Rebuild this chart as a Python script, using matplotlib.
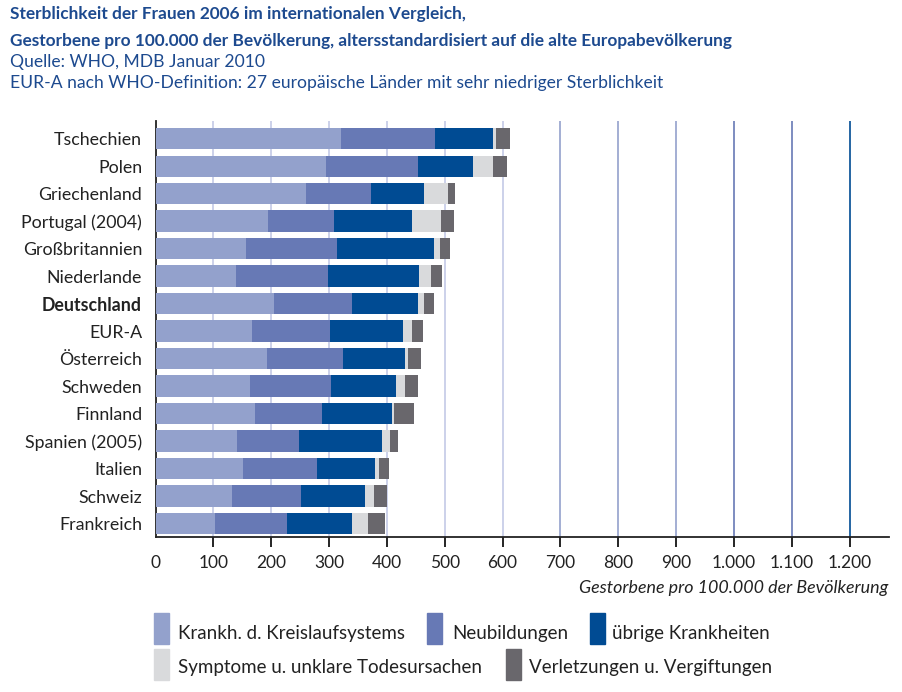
import matplotlib
matplotlib.use("Agg")
import matplotlib.pyplot as plt
from matplotlib.patches import Rectangle
import numpy as np

plt.rcParams['font.family'] = ['Lato', 'DejaVu Sans']

countries = ["Tschechien", "Polen", "Griechenland", "Portugal (2004)", "Großbritannien",
             "Niederlande", "Deutschland", "EUR-A", "Österreich", "Schweden",
             "Finnland", "Spanien (2005)", "Italien", "Schweiz", "Frankreich"]
kreislauf = [320, 294, 261, 195, 157, 140, 204, 166, 193, 164, 172, 141, 152, 133, 103]
neubildungen = [164, 160, 111, 114, 157, 159, 135, 135, 131, 140, 116, 107, 128, 119, 125]
uebrige = [100, 94, 92, 135, 168, 157, 114, 126, 107, 111, 121, 144, 100, 111, 112]
symptome = [5, 36, 41, 50, 10, 21, 12, 16, 5, 16, 3, 14, 7, 14, 28]
verletzungen = [24, 24, 12, 22, 17, 19, 17, 19, 23, 22, 35, 14, 16, 24, 28]

series_names = ["Krankh. d. Kreislaufsystems", "Neubildungen", "übrige Krankheiten",
                "Symptome u. unklare Todesursachen", "Verletzungen u. Vergiftungen"]
series_vals = [kreislauf, neubildungen, uebrige, symptome, verletzungen]
colors = ["#93a1cc", "#6779b5", "#004b93", "#d9dadc", "#69676c"]

xticks = list(range(0, 1300, 100))
xtick_labels = ["0", "100", "200", "300", "400", "500", "600", "700", "800", "900",
                "1.000", "1.100", "1.200"]
grid_colors = ["#c3c9e6"] * 7 + ["#93a1cc"] * 3 + ["#6779b5"] * 2 + ["#004b93"]

W, H = 902, 692
fig = plt.figure(figsize=(W / 100, H / 100), dpi=100)
ax = fig.add_axes([155.5 / W, 1 - 537 / H, (889 - 155.5) / W, (537 - 121) / H])

y = np.arange(len(countries))
left = np.zeros(len(countries))
for vals, col, name in zip(series_vals, colors, series_names):
    ax.barh(y, vals, left=left, height=0.77, color=col, label=name, zorder=3)
    left += np.array(vals)

ax.set_xlim(0, 1268)
ax.set_ylim(len(countries) - 0.51, -0.64)

# gridlines
for xv, gc in zip(xticks[1:], grid_colors[1:]):
    ax.axvline(xv, color=gc, lw=1.2, zorder=1)

ax.set_xticks(xticks)
ax.set_xticklabels(xtick_labels, fontsize=12.5, color="#222222")
ax.tick_params(axis='x', length=7, width=1.2, pad=6)
for t, gc in zip(ax.xaxis.get_major_ticks(), grid_colors):
    t.tick1line.set_color(gc)
ax.xaxis.get_major_ticks()[0].tick1line.set_visible(False)

ax.set_yticks(y)
ax.set_yticklabels(countries, fontsize=12.8, color="#222222")
ax.tick_params(axis='y', length=0, pad=9.7)
for lbl in ax.get_yticklabels():
    if lbl.get_text() == "Deutschland":
        lbl.set_fontweight("bold")

for s in ["top", "right"]:
    ax.spines[s].set_visible(False)
ax.spines["left"].set_color("#222222")
ax.spines["bottom"].set_color("#222222")
ax.spines["left"].set_linewidth(1.3)
ax.spines["bottom"].set_linewidth(1.3)

fig.text(888 / W, 1 - 588 / H, "Gestorbene pro 100.000 der Bevölkerung",
         ha="right", va="center", fontsize=12.9, style="italic", color="#222222")

# titles
tcol = "#1d4a8f"
fig.text(10 / W, 1 - 14 / H, "Sterblichkeit der Frauen 2006 im internationalen Vergleich,",
         ha="left", va="center", fontsize=12.4, fontweight="bold", color=tcol)
fig.text(10 / W, 1 - 41 / H,
         "Gestorbene pro 100.000 der Bevölkerung, altersstandardisiert auf die alte Europabevölkerung",
         ha="left", va="center", fontsize=12.4, fontweight="bold", color=tcol)
fig.text(10 / W, 1 - 62 / H, "Quelle: WHO, MDB Januar 2010",
         ha="left", va="center", fontsize=12.6, color=tcol)
fig.text(10 / W, 1 - 83 / H, "EUR-A nach WHO-Definition: 27 europäische Länder mit sehr niedriger Sterblichkeit",
         ha="left", va="center", fontsize=12.6, color=tcol)

# legend (manual)
leg_pos = [(154, 613, 178, 633), (427, 613, 452, 633), (590, 613, 612, 633),
           (154, 649, 178, 668), (506, 649, 529, 668)]
for (sx, sy, tx, ty), col, name in zip(leg_pos, colors, series_names):
    fig.patches.append(Rectangle((sx / W, 1 - (sy + 31) / H), 15 / W, 31 / H,
                                 transform=fig.transFigure, color=col))
    fig.text(tx / W, 1 - ty / H, name, ha="left", va="center", fontsize=13.5, color="#222222")

fig.savefig("out.png", dpi=100)
